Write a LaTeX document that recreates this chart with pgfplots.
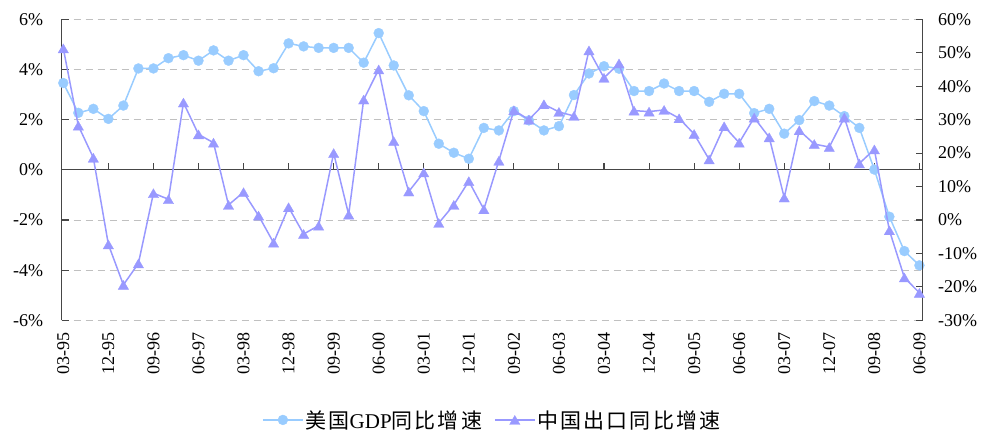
\documentclass[border=0pt]{standalone}
\usepackage{pgfplots}
\pgfplotsset{compat=1.18}
\usepackage{pgfplotstable}
\usepackage{fontspec}
\setmainfont{Liberation Serif}
\newfontfamily\cjk[LetterSpace=10]{Noto Sans CJK SC}
\definecolor{gdpc}{RGB}{153,204,255}
\definecolor{expc}{RGB}{153,153,255}
\definecolor{gridc}{RGB}{192,192,192}
\definecolor{axc}{RGB}{70,70,70}

\pgfplotstableread{
i g e
0 3.46 51.3
1 2.27 28.2
2 2.43 18.6
3 2.03 -7.3
4 2.56 -19.4
5 4.04 -13.0
6 4.04 8.0
7 4.45 6.2
8 4.57 35.1
9 4.35 25.6
10 4.76 23.1
11 4.35 4.5
12 4.57 8.3
13 3.93 1.3
14 4.05 -6.8
15 5.04 3.8
16 4.92 -4.2
17 4.86 -1.7
18 4.86 20.0
19 4.86 1.6
20 4.27 36.0
21 5.45 45.0
22 4.16 23.6
23 2.97 8.5
24 2.34 14.2
25 1.04 -0.9
26 0.68 4.5
27 0.44 11.6
28 1.67 3.2
29 1.57 17.7
30 2.34 32.8
31 1.97 30.0
32 1.57 34.6
33 1.74 32.3
34 2.98 31.1
35 3.84 50.7
36 4.13 42.5
37 4.03 46.8
38 3.14 32.7
39 3.14 32.4
40 3.44 32.9
41 3.14 30.4
42 3.14 25.7
43 2.71 18.1
44 3.03 28.0
45 3.03 23.1
46 2.26 30.6
47 2.43 24.7
48 1.44 6.7
49 1.98 26.8
50 2.74 22.7
51 2.56 21.8
52 2.14 30.6
53 1.67 16.9
54 0.01 21.1
55 -1.87 -3.1
56 -3.24 -17.2
57 -3.81 -21.8
}\datatable

\pgfplotsset{
  gdpstyle/.style={color=gdpc, line width=1.5pt, mark=*, mark size=5pt, mark options={fill=gdpc, draw=gdpc, line width=0.3pt}},
  expstyle/.style={color=expc, line width=1.5pt, mark=triangle*, mark size=6pt, mark options={fill=expc, draw=expc, line width=0.3pt, yshift=-1.5pt}},
}

\begin{document}
\begin{tikzpicture}
\useasboundingbox (-61.7pt,-113.7pt) rectangle (925.3pt,320.3pt);
\begin{axis}[
  at={(0,0)}, anchor=south west,
  scale only axis, width=861pt, height=301pt,
  xmin=-0.107, xmax=57.22, ymin=-6, ymax=6,
  axis y line*=left, axis x line*=bottom,
  x axis line style={draw=none},
  y axis line style={axc, line width=1.1pt},
  xtick={0,3,...,57},
  xticklabels={03-95,12-95,09-96,06-97,03-98,12-98,09-99,06-00,03-01,12-01,09-02,06-03,03-04,12-04,09-05,06-06,03-07,12-07,09-08,06-09},
  major x tick style={draw=none},
  xticklabel style={rotate=90, anchor=east, font=\fontsize{18}{20}\selectfont},
  xticklabel shift=9pt,
  ytick={-6,-4,...,6},
  yticklabels={-6\%,-4\%,-2\%,0\%,2\%,4\%,6\%},
  yticklabel style={font=\fontsize{18}{20}\selectfont},
  yticklabel shift=15pt,
  ytick align=inside,
  major tick length=7pt,
  major y tick style={axc, line width=1.1pt},
  ymajorgrids,
  major grid style={gridc, dash pattern=on 7pt off 5pt, line width=0.9pt},
  clip=false,
]
\draw[axc, line width=1.3pt] (axis cs:-0.107,0) -- (axis cs:57.22,0);
\pgfplotsinvokeforeach{3,6,...,57}{\draw[axc, line width=1.1pt] (axis cs:#1,0) -- ++(0pt,7pt);}
\addplot[gdpstyle] table[x=i, y=g] {\datatable};
\end{axis}
\begin{axis}[
  at={(0,0)}, anchor=south west,
  scale only axis, width=861pt, height=301pt,
  xmin=-0.107, xmax=57.22, ymin=-30, ymax=60,
  axis y line*=right, axis x line=none,
  y axis line style={axc, line width=1.1pt},
  ytick={-30,-20,...,60},
  yticklabels={-30\%,-20\%,-10\%,0\%,10\%,20\%,30\%,40\%,50\%,60\%},
  yticklabel style={font=\fontsize{18}{20}\selectfont},
  yticklabel shift=12pt,
  ytick align=inside,
  major tick length=7pt,
  major y tick style={axc, line width=1.1pt},
  clip=false,
  legend columns=2,
  legend cell align=left,
  legend style={at={(0.5,-0.331)}, anchor=center, draw=none, fill=none,
    font=\fontsize{21}{23}\selectfont,
    /tikz/every even column/.append style={column sep=10pt}},
  legend image code/.code={\draw[mark repeat=2, mark phase=2, #1] plot coordinates {(0pt,0pt) (20pt,0pt) (40pt,0pt)};},
]
\addlegendimage{gdpstyle}
\addlegendentry{{\cjk 美国}GDP{\cjk 同比增速}}
\addplot[expstyle] table[x=i, y=e] {\datatable};
\addlegendentry{{\cjk 中国出口同比增速}}
\end{axis}
\end{tikzpicture}
\end{document}
